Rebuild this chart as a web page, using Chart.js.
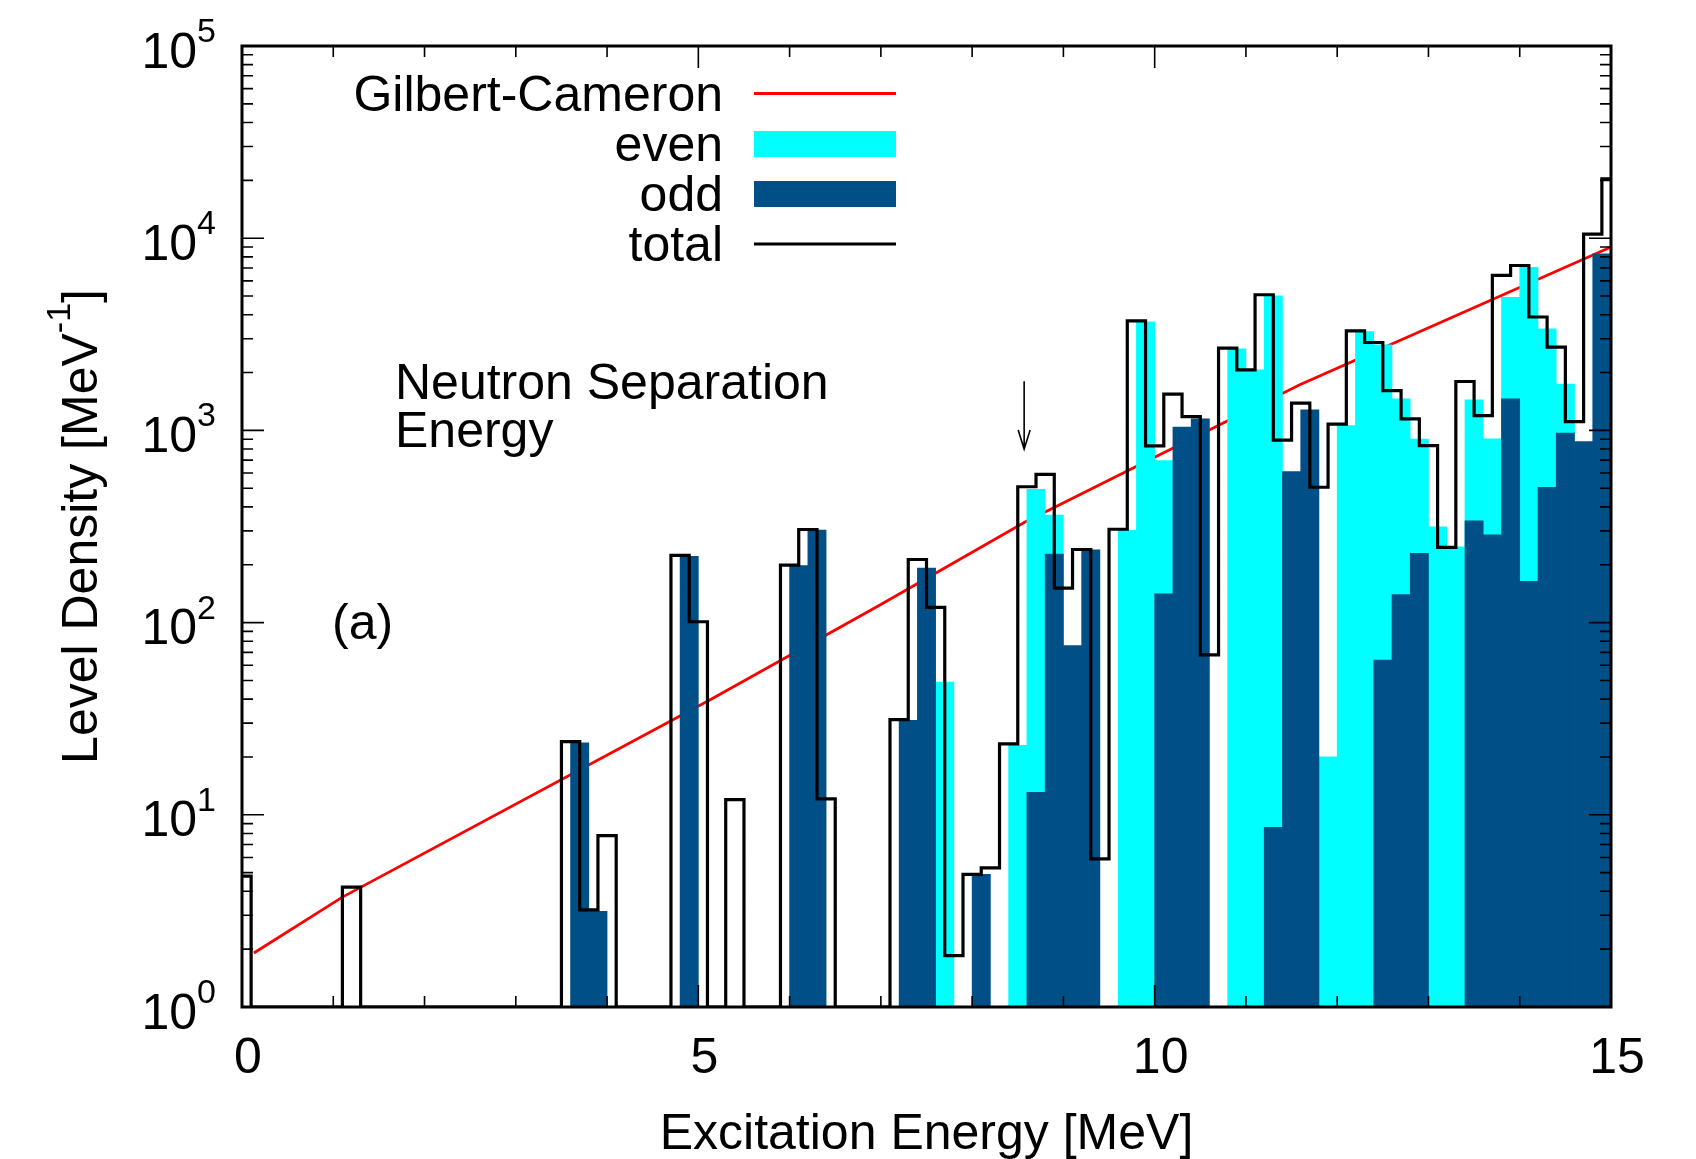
<!DOCTYPE html>
<html>
<head>
<meta charset="utf-8">
<script src="https://cdn.jsdelivr.net/npm/chart.js@4.4.1/dist/chart.umd.min.js"></script>
<style>
  body { margin: 0; background: #fff; }
  canvas { display: block; }
</style>
</head>
<body>
<canvas id="levelDensityChart" width="1696" height="1159"></canvas>
<script>
// bin centres of the histogram [MeV], 0.2 MeV wide
const energies = [
  0.0, 0.2, 0.4, 0.6, 0.8, 1.0, 1.2, 1.4, 1.6, 1.8,
  2.0, 2.2, 2.4, 2.6, 2.8, 3.0, 3.2, 3.4, 3.6, 3.8,
  4.0, 4.2, 4.4, 4.6, 4.8, 5.0, 5.2, 5.4, 5.6, 5.8,
  6.0, 6.2, 6.4, 6.6, 6.8, 7.0, 7.2, 7.4, 7.6, 7.8,
  8.0, 8.2, 8.4, 8.6, 8.8, 9.0, 9.2, 9.4, 9.6, 9.8,
  10.0, 10.2, 10.4, 10.6, 10.8, 11.0, 11.2, 11.4, 11.6, 11.8,
  12.0, 12.2, 12.4, 12.6, 12.8, 13.0, 13.2, 13.4, 13.6, 13.8,
  14.0, 14.2, 14.4, 14.6, 14.8, 15.0
];

// level density [1/MeV], 0 = empty bin
const totalDensity = [
  4.8, 0, 0, 0, 0, 0, 4.2, 0, 0, 0,
  0, 0, 0, 0, 0, 0, 0, 0, 24, 3.2,
  7.8, 0, 0, 0, 224, 101, 0, 12.0, 0, 0,
  199, 305, 12.1, 0, 0, 0, 31.3, 213, 120, 1.85,
  4.9, 5.3, 23.4, 509, 591, 151, 240, 5.9, 306, 3717,
  830, 1544, 1180, 68, 2680, 2065, 5080, 891, 1386, 506,
  1077, 3298, 2866, 1611, 1148, 833, 246, 1796, 1195, 6400,
  7210, 3890, 2712, 1111, 10510, 20340
];

const evenDensity = [
  null, null, null, null, null, null, null, null, null, null,
  null, null, null, null, null, null, null, null, null, null,
  null, null, null, null, null, null, null, null, null, null,
  null, null, null, null, null, null, null, null, 49, null,
  null, null, 23, 494, 363, null, null, null, 302, 3672,
  697, null, null, null, 2656, 2065, 5020, null, null, 20,
  1059, 3270, 2786, 1459, 900, 315, 248, 1442, 903, 4920,
  7050, 3380, 1741, null, null, null
];

const oddDensity = [
  null, null, null, null, null, null, null, null, null, null,
  null, null, null, null, null, null, null, null, 23.7, 3.15,
  null, null, null, null, 221, null, null, null, null, null,
  198, 303, null, null, null, null, 31, 192, null, null,
  4.9, null, null, 13.1, 227, 76, 239, null, null, null,
  141, 1040, 1148, null, null, null, 8.6, 610, 1279, null,
  null, null, 63.8, 140, 229, null, null, 338, 286, 1459,
  164, 506, 967, 875, 8300, null
];

// Gilbert-Cameron formula
const gcEnergies = [0.13, 1.10, 5.12, 6.985, 8.575, 11.59, 15.0];
const gcDensity = [1.91, 3.73, 39.4, 123, 333, 1726, 9000];

// neutron separation energy arrow
const separationEnergy = 8.57;
const arrowTop = 1800;
const arrowTip = 800;

const xMajorTicks = [0, 5, 10, 15];
const yExponents = [0, 1, 2, 3, 4, 5];

const X_MIN = 0, X_MAX = 15;
const Y_MIN = 1, Y_MAX = 1e5;
const FILL_SHIFT = 0.1; // filled boxes sit half a bin to the right of the steps
const FONT = "'Liberation Sans', Arial, Helvetica, sans-serif";

const decorations = {
  id: "decorations",
  afterDatasetsDraw(chart) {
    const { ctx, chartArea: a, scales: { x, y } } = chart;
    ctx.save();

    // inward ticks on all four sides
    ctx.strokeStyle = "#000";
    ctx.lineWidth = 1.6;
    ctx.beginPath();
    for (let e = X_MIN; e <= X_MAX; e++) {
      const px = x.getPixelForValue(e);
      const len = xMajorTicks.includes(e) ? 22 : 11;
      ctx.moveTo(px, a.bottom); ctx.lineTo(px, a.bottom - len);
      ctx.moveTo(px, a.top); ctx.lineTo(px, a.top + len);
    }
    yExponents.forEach((p) => {
      for (let m = 1; m <= 9; m++) {
        const v = m * Math.pow(10, p);
        if (v > Y_MAX) break;
        const py = y.getPixelForValue(v);
        const len = m === 1 ? 22 : 11;
        ctx.moveTo(a.left, py); ctx.lineTo(a.left + len, py);
        ctx.moveTo(a.right, py); ctx.lineTo(a.right - len, py);
      }
    });
    ctx.stroke();

    // frame
    ctx.lineWidth = 3;
    ctx.strokeRect(a.left, a.top, a.right - a.left, a.bottom - a.top);

    // arrow at the neutron separation energy
    const ax = x.getPixelForValue(separationEnergy);
    const ay1 = y.getPixelForValue(arrowTop);
    const ay2 = y.getPixelForValue(arrowTip);
    ctx.lineWidth = 1.6;
    ctx.beginPath();
    ctx.moveTo(ax, ay1); ctx.lineTo(ax, ay2);
    ctx.moveTo(ax - 6, ay2 - 19); ctx.lineTo(ax, ay2); ctx.lineTo(ax + 6, ay2 - 19);
    ctx.stroke();

    ctx.fillStyle = "#000";
    const big = "50px " + FONT;
    const small = "34px " + FONT;

    // x tick labels
    ctx.font = big;
    ctx.textAlign = "center";
    ctx.textBaseline = "alphabetic";
    xMajorTicks.forEach((e) => {
      ctx.fillText(String(e), x.getPixelForValue(e) + 6, a.bottom + 66);
    });

    // y tick labels 10^n
    yExponents.forEach((p) => {
      const py = y.getPixelForValue(Math.pow(10, p));
      ctx.font = big;
      const w10 = ctx.measureText("10").width;
      ctx.font = small;
      const wp = ctx.measureText(String(p)).width;
      const left = 216 - w10 - wp;
      ctx.textAlign = "left";
      ctx.font = big;
      ctx.fillText("10", left, py + 21.5);
      ctx.font = small;
      ctx.fillText(String(p), left + w10, py - 4);
    });

    // axis titles
    ctx.font = big;
    ctx.textAlign = "center";
    ctx.fillText("Excitation Energy [MeV]", (a.left + a.right) / 2, 1149);

    ctx.save();
    ctx.translate(97, (a.top + a.bottom) / 2);
    ctx.rotate(-Math.PI / 2);
    ctx.textAlign = "left";
    ctx.font = big;
    const t1 = "Level Density [MeV", t3 = "]";
    const w1 = ctx.measureText(t1).width, w3 = ctx.measureText(t3).width;
    ctx.font = small;
    const t2 = "-1", w2 = ctx.measureText(t2).width;
    let tx = -(w1 + w2 + w3) / 2;
    ctx.font = big; ctx.fillText(t1, tx, 0); tx += w1;
    ctx.font = small; ctx.fillText(t2, tx, -27); tx += w2;
    ctx.font = big; ctx.fillText(t3, tx, 0);
    ctx.restore();

    // labels inside the plot
    ctx.font = big;
    ctx.textAlign = "left";
    ctx.fillText("Neutron Separation", 395, 399);
    ctx.fillText("Energy", 395, 447);
    ctx.fillText("(a)", 332, 639);

    // legend: text right-aligned, sample to the right
    const rowY = [93.5, 144, 194, 244];
    chart.data.datasets.forEach((ds, i) => {
      const cy = rowY[i];
      ctx.fillStyle = "#000";
      ctx.textAlign = "right";
      ctx.font = big;
      ctx.fillText(ds.label, 723, cy + 17);
      if (ds.type === "line") {
        ctx.strokeStyle = ds.borderColor;
        ctx.lineWidth = ds.borderWidth;
        ctx.beginPath();
        ctx.moveTo(754, cy); ctx.lineTo(896, cy);
        ctx.stroke();
      } else {
        ctx.fillStyle = ds.backgroundColor;
        ctx.fillRect(754, cy - 13, 142, 26);
      }
    });

    ctx.restore();
  },
};

const barStyle = {
  grouped: false,
  barPercentage: 1,
  categoryPercentage: 1,
  borderWidth: 0,
};

new Chart(document.getElementById("levelDensityChart"), {
  type: "bar",
  data: {
    datasets: [
      {
        type: "line",
        label: "Gilbert-Cameron",
        data: gcEnergies.map((e, i) => ({ x: e, y: gcDensity[i] })),
        borderColor: "#ff0000",
        borderWidth: 2.8,
        pointRadius: 0,
        order: 3,
      },
      {
        label: "even",
        data: energies.map((e, i) => ({ x: e + FILL_SHIFT, y: evenDensity[i] })),
        backgroundColor: "#00ffff",
        order: 2,
        ...barStyle,
      },
      {
        label: "odd",
        data: energies.map((e, i) => ({ x: e + FILL_SHIFT, y: oddDensity[i] })),
        backgroundColor: "#004f87",
        order: 1,
        ...barStyle,
      },
      {
        type: "line",
        label: "total",
        // empty bins sit on the floor of the log axis
        data: energies.map((e, i) => ({ x: e, y: totalDensity[i] > 0 ? totalDensity[i] : Y_MIN })),
        borderColor: "#000000",
        borderWidth: 3.2,
        stepped: "middle",
        pointRadius: 0,
        order: 0,
      },
    ],
  },
  options: {
    responsive: false,
    animation: false,
    layout: { padding: { left: 242, top: 46, right: 85, bottom: 152 } },
    scales: {
      x: { type: "linear", min: X_MIN, max: X_MAX, offset: false, display: false },
      y: { type: "logarithmic", min: Y_MIN, max: Y_MAX, display: false },
    },
    plugins: {
      legend: { display: false },
      tooltip: { enabled: false },
    },
  },
  plugins: [decorations],
});
</script>
</body>
</html>
